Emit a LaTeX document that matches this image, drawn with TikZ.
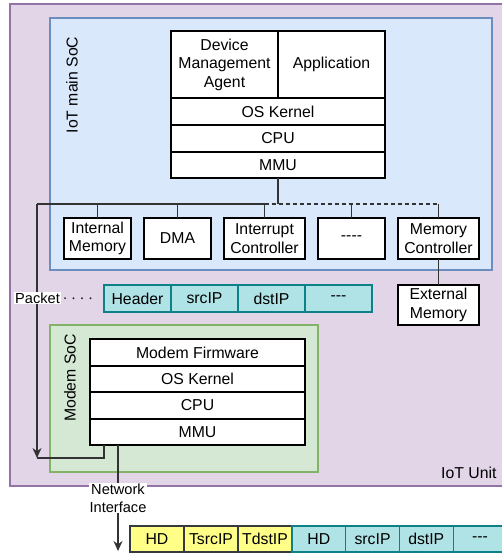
\documentclass[tikz,border=0pt]{standalone}
\usepackage{fontspec}
\setmainfont{Liberation Sans}
\usetikzlibrary{arrows.meta, positioning, calc}

\definecolor{unitfill}{HTML}{E1D5E7}
\definecolor{unitdraw}{HTML}{9673A6}
\definecolor{socfill}{HTML}{DAE8FC}
\definecolor{socdraw}{HTML}{6C8EBF}
\definecolor{mdmfill}{HTML}{D5E8D4}
\definecolor{mdmdraw}{HTML}{82B366}
\definecolor{pktfill}{HTML}{B0E3E6}
\definecolor{pktdraw}{HTML}{0E8088}
\definecolor{tunfill}{HTML}{FFFF88}
\definecolor{tundraw}{HTML}{36393D}
\definecolor{wiregray}{HTML}{333333}

\begin{document}
\begin{tikzpicture}[
    x=1pt, y=-1pt,
    font=\fontsize{15.8}{18.5}\selectfont,
    frame/.style={fill=#1fill, draw=#1draw, line width=1.2pt},
    layer/.style={
        rectangle, draw=black, fill=white, line width=1.2pt,
        minimum width=#1, minimum height=27, inner sep=1pt,
        outer sep=0pt, align=center
    },
    periph/.style={
        rectangle, draw=black, fill=white, line width=1.2pt,
        minimum width=#1, minimum height=41, inner sep=1pt,
        outer sep=0pt, align=center
    },
    field/.style={
        rectangle, draw=pktdraw, fill=pktfill, line width=1.2pt,
        minimum width=#1, minimum height=27, inner sep=1pt, outer sep=0pt
    },
    field/.default=67,
    tfield/.style={
        rectangle, draw=tundraw, fill=tunfill, line width=1.2pt,
        minimum width=#1, minimum height=26, inner sep=1pt, outer sep=0pt
    },
    tfield/.default=54,
    wire/.style={draw=wiregray, line width=1.2pt},
    arr/.style={-{Stealth[length=10pt, width=9pt]}},
    edgelbl/.style={fill=white, inner sep=1pt, align=center,
        font=\fontsize{14.6}{18}\selectfont}
]
\useasboundingbox (0,0) rectangle (501,554);

% IoT unit and main SoC frames
\draw[frame=unit] (10,4) rectangle (515,486);
\node[anchor=base east] (unitlbl) at (500,478) {IoT Unit};
\draw[frame=soc] (50,18) rectangle (492,270);
\node[rotate=90] (mainlbl) at (72,85) {IoT main SoC};

% Main SoC stack
\node[layer=107, minimum height=67, anchor=north west] (agent) at (171,31) {Device\\Management\\Agent};
\node[layer=107, minimum height=67, right=0pt of agent] (app) {Application};
\node[layer=214, below=0pt of agent.south east] (kernel) {OS Kernel};
\node[layer=214, below=0pt of kernel] (cpu) {CPU};
\node[layer=214, minimum height=26, below=0pt of cpu] (mmu) {MMU};

% Peripherals on the bus
\node[periph=67, anchor=north west] (imem) at (64,218) {Internal\\Memory};
\node[periph=67, right=13pt of imem] (dmac) {DMA};
\node[periph=81, right=13pt of dmac] (intc) {Interrupt\\Controller};
\node[periph=67, right=13pt of intc] (more) {-{}-{}-{}-};
\node[periph=81, right=13pt of more] (memc) {Memory\\Controller};
\node[periph=81, minimum height=40, below=26pt of memc] (extmem) {External\\Memory};

\coordinate (bus) at (37,204);
\coordinate (mdmin) at (37,458);
\draw[wire] (mmu) -- (mmu |- bus);
\draw[wire] (bus) -- (intc |- bus);
\draw[wire, dash pattern=on 4pt off 3pt] (intc |- bus) -- (memc |- bus);
\foreach \p in {imem, dmac, intc, more, memc}
    \draw[wire] (\p) -- (\p |- bus);
\draw[wire] (memc) -- (extmem);
\draw[wire, arr] (bus) -- (mdmin);

% Packet
\node[edgelbl] (pktlbl) at (37.5,298) {Packet};
\node[field, anchor=north west] (hdr) at (104,285) {Header};
\node[field, right=0pt of hdr] (src) {srcIP};
\node[field, right=0pt of src] (dst) {dstIP};
\node[field, right=0pt of dst] (rest) {-{}-{}-};
\draw[wiregray, line width=2.2pt, line cap=round, dash pattern=on 0pt off 8.5pt,
      shorten <=4pt, shorten >=10pt] (pktlbl) -- (hdr);

% Modem SoC
\draw[frame=mdm] (50,325) rectangle (318,472);
\node[rotate=90] (mdmlbl) at (70,378) {Modem SoC};
\node[layer=215, anchor=north west] (fw) at (90,339) {Modem Firmware};
\node[layer=215, minimum height=26, below=0pt of fw] (mkernel) {OS Kernel};
\node[layer=215, below=0pt of mkernel] (mcpu) {CPU};
\node[layer=215, minimum height=26, below=0pt of mcpu] (mmmu) {MMU};

\draw[wire] ([xshift=14pt]mmmu.south west) |- (mdmin);
\coordinate (netout) at (118,551);
\draw[wire, arr] ([xshift=28pt]mmmu.south west) -- node[edgelbl] (netlbl) {Network\\Interface} (netout);

% Tunnelled packet
\node[tfield, anchor=north west] (thd) at (130,526) {HD};
\node[tfield, right=0pt of thd] (tsrc) {TsrcIP};
\node[tfield, right=0pt of tsrc] (tdst) {TdstIP};
\node[field=53.7, minimum height=26, right=0pt of tdst] (ihd) {HD};
\node[field=53.7, minimum height=26, right=0pt of ihd] (isrc) {srcIP};
\node[field=53.7, minimum height=26, right=0pt of isrc] (idst) {dstIP};
\node[field=53.7, minimum height=26, right=0pt of idst] (irest) {-{}-{}-};

\end{tikzpicture}
\end{document}
